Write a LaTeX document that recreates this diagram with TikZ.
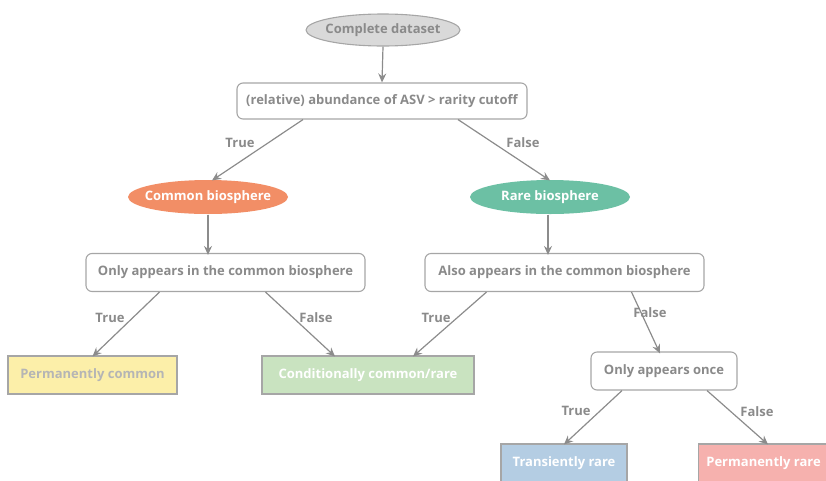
\documentclass[tikz,border=0pt]{standalone}
\usepackage{fontspec}
\setmainfont{Open Sans}
\usetikzlibrary{arrows.meta,shapes.geometric,positioning}
\definecolor{linegray}{HTML}{8C8C8C}
\definecolor{txtgray}{HTML}{8A8A8A}
\definecolor{bordergray}{HTML}{A6A6A6}
\definecolor{dsfill}{HTML}{D9D9D9}
\definecolor{commonfill}{HTML}{F28E66}
\definecolor{rarefill}{HTML}{6CC0A4}
\definecolor{yellowfill}{HTML}{FCEFA9}
\definecolor{greenfill}{HTML}{C9E3C0}
\definecolor{bluefill}{HTML}{B4CDE3}
\definecolor{pinkfill}{HTML}{F6B1AE}
\definecolor{pctext}{HTML}{B5B5B5}
\tikzset{
  x=1pt,y=-1pt,
  every node/.style={font=\bfseries\fontsize{13}{15}\selectfont, inner sep=0pt},
  oval/.style={ellipse, draw=bordergray, line width=1.1pt, inner xsep=-12pt, minimum height=33pt},
  question/.style={rectangle, rounded corners=6pt, draw=bordergray, fill=white, line width=1.1pt, minimum height=37pt, text=txtgray},
  leaf/.style={rectangle, draw=bordergray, line width=1.1pt, minimum height=38pt, text=white},
  arr/.style={draw=linegray, line width=1.2pt, -{Stealth[length=9pt,width=8pt,inset=3pt]}},
  lab/.style={text=txtgray}
}
\begin{document}
\begin{tikzpicture}
\useasboundingbox (0,0) rectangle (826,480);
\node[oval, fill=dsfill, text=txtgray, minimum width=154pt, minimum height=32pt] (ds) at (383,30) {Complete dataset};
\node[question, minimum width=290pt, minimum height=36pt] (q1) at (382,101) {(relative) abundance of ASV > rarity cutoff};
\node[oval, fill=commonfill, draw=none, text=white, minimum width=160pt, minimum height=34pt] (cb) at (208,197) {Common biosphere};
\node[oval, fill=rarefill, draw=none, text=white, minimum width=160pt, minimum height=34pt] (rb) at (550,197) {Rare biosphere};
\node[question, minimum width=279pt, minimum height=38pt] (q2) at (225.5,272.5) {Only appears in the common biosphere};
\node[question, minimum width=279pt, minimum height=38pt] (q3) at (564.5,272.5) {Also appears in the common biosphere};
\node[leaf, fill=yellowfill, text=pctext, minimum width=169pt] (pc) at (92.5,375) {Permanently common};
\node[leaf, fill=greenfill, minimum width=212pt] (cc) at (368,375) {Conditionally common/rare};
\node[question, minimum width=146pt, minimum height=38pt] (q4) at (664,371) {Only appears once};
\node[leaf, fill=bluefill, minimum width=126pt] (tr) at (564,463) {Transiently rare};
\node[leaf, fill=pinkfill, minimum width=130pt, anchor=west] (pr) at (698,463) {Permanently rare};

\draw[arr] (ds.south) -- (q1.north);
\draw[arr] ([xshift=-79pt]q1.south) -- ([xshift=4pt,yshift=-1pt]cb.north);
\draw[arr] ([xshift=76pt]q1.south) -- ([yshift=-1pt]rb.north);
\draw[arr] (cb.south) -- ([xshift=-17.5pt,yshift=-2pt]q2.north);
\draw[arr] ([xshift=-2pt]rb.south) -- ([xshift=-16.5pt,yshift=-2pt]q3.north);
\draw[arr] ([xshift=-66pt]q2.south) -- ([yshift=-1pt]pc.north);
\draw[arr] ([xshift=40pt]q2.south) -- ([xshift=-33pt,yshift=-1pt]cc.north);
\draw[arr] ([xshift=-78pt]q3.south) -- ([xshift=45pt,yshift=-1pt]cc.north);
\draw[arr] ([xshift=67pt]q3.south) -- ([xshift=-4pt,yshift=-2pt]q4.north);
\draw[arr] ([xshift=-42pt]q4.south) -- ([yshift=-1pt]tr.north);
\draw[arr] ([xshift=43pt]q4.south) -- ([xshift=70pt,yshift=-1pt]pr.north west);

\node[lab] (t1) at (240,143) {True};
\node[lab] (f1) at (523,143) {False};
\node[lab] (t2) at (110,318) {True};
\node[lab] (f2) at (316,318) {False};
\node[lab] (t3) at (436,318) {True};
\node[lab] (f3) at (650,313) {False};
\node[lab] (t4) at (576,411) {True};
\node[lab] (f4) at (757,412) {False};
\end{tikzpicture}
\end{document}
